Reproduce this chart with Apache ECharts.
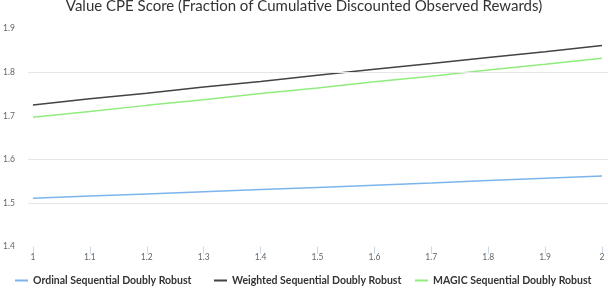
<!DOCTYPE html>
<html>
<head>
<meta charset="utf-8">
<script src="https://cdn.jsdelivr.net/npm/echarts@6/dist/echarts.min.js"></script>
<style>html,body{margin:0;padding:0;background:#fff}#c{width:608px;height:288px}</style>
</head>
<body>
<div id="c"></div>
<script>
var xValues = [1, 1.1, 1.2, 1.3, 1.4, 1.5, 1.6, 1.7, 1.8, 1.9, 2];
var xTickLabels = ['1', '1.1', '1.2', '1.3', '1.4', '1.5', '1.6', '1.7', '1.8', '1.9', '2'];
var ordinal = [1.511, 1.516, 1.521, 1.526, 1.531, 1.536, 1.541, 1.546, 1.552, 1.557, 1.562];
var weighted = [1.725, 1.739, 1.752, 1.766, 1.779, 1.793, 1.807, 1.820, 1.834, 1.847, 1.861];
var magic = [1.697, 1.710, 1.724, 1.737, 1.751, 1.764, 1.778, 1.791, 1.805, 1.818, 1.832];
var seriesNames = ['Ordinal Sequential Doubly Robust', 'Weighted Sequential Doubly Robust', 'MAGIC Sequential Doubly Robust'];
var gridValues = [1.5, 1.6, 1.8];
var titleText = 'Value CPE Score (Fraction of Cumulative Discounted Observed Rewards)';

function pairs(ys) { return xValues.map(function (x, i) { return [x, ys[i]]; }); }

var chart = echarts.init(document.getElementById('c'), null, { renderer: 'canvas' });
var font = 'Lato, "Open Sans", sans-serif';
var legendLefts = [15, 214, 415];
chart.setOption({
  animation: false,
  backgroundColor: '#ffffff',
  title: {
    text: titleText, left: 'center', top: -1, padding: 0,
    textStyle: { fontFamily: font, fontSize: 15, fontWeight: 'normal', color: '#333333' }
  },
  legend: seriesNames.map(function (n, i) {
    return {
      left: legendLefts[i], top: 275, padding: 0, itemWidth: 13, itemHeight: 2, icon: 'rect',
      textStyle: { fontFamily: font, fontSize: 10.5, fontWeight: 'bold', color: '#333333' },
      data: [n]
    };
  }),
  grid: { left: 25, right: 0, top: 28.6, bottom: 41.3, containLabel: false },
  xAxis: {
    type: 'value', min: 0.9913, max: 2.0105,
    axisLine: { show: false },
    splitLine: { show: false },
    axisTick: { show: true, length: 7, lineStyle: { color: '#ccd6eb' }, customValues: xValues },
    axisLabel: {
      customValues: xValues, margin: 6, color: '#666666', fontFamily: font, fontSize: 8.5,
      formatter: function (v) { var i = xValues.indexOf(Math.round(v * 10) / 10); return i >= 0 ? xTickLabels[i] : ''; }
    }
  },
  yAxis: {
    type: 'value', min: 1.4, max: 1.9, interval: 0.1,
    axisLine: { show: false }, axisTick: { show: false },
    splitLine: { show: false },
    axisLabel: { align: 'left', margin: 25, color: '#666666', fontFamily: font, fontSize: 8.5,
      formatter: function (v) { return (Math.round(v * 10) / 10).toString(); } }
  },
  series: [
    { name: seriesNames[0], type: 'line', data: pairs(ordinal), showSymbol: false, color: '#7cb5ec',
      lineStyle: { width: 1.5 },
      markLine: { silent: true, symbol: 'none', label: { show: false },
        lineStyle: { color: '#e6e6e6', width: 1, type: 'solid' },
        data: gridValues.map(function (v) { return { yAxis: v }; }) }, z: 2 },
    { name: seriesNames[1], type: 'line', data: pairs(weighted), showSymbol: false, color: '#434348', lineStyle: { width: 1.5 }, z: 3 },
    { name: seriesNames[2], type: 'line', data: pairs(magic), showSymbol: false, color: '#90ed7d', lineStyle: { width: 1.5 }, z: 3 }
  ]
});
</script>
</body>
</html>
